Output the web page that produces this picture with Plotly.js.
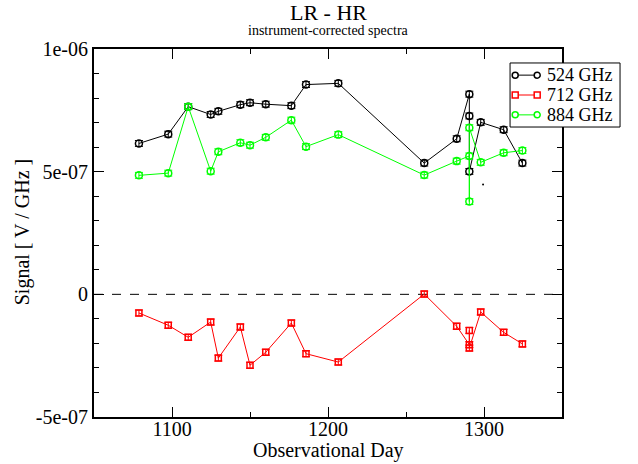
<!DOCTYPE html>
<html>
<head>
<meta charset="utf-8">
<script src="https://cdn.plot.ly/plotly-3.0.1.min.js"></script>
<style>html,body{margin:0;padding:0;background:#fff;}#plot{width:638px;height:464px;}</style>
</head>
<body>
<div id="plot"></div>
<script>
// Observational days (shared by all three series)
var days = [1078.8, 1097.6, 1110.4, 1124.8, 1129.7, 1143.8, 1150.0, 1160.1, 1176.5, 1185.9, 1206.6, 1261.7, 1282.5, 1290.6, 1290.6, 1290.6, 1297.9, 1312.6, 1324.6];
// 524 GHz signal
var sig524 = [6.15e-7, 6.53e-7, 7.65e-7, 7.33e-7, 7.46e-7, 7.73e-7, 7.81e-7, 7.75e-7, 7.69e-7, 8.55e-7, 8.60e-7, 5.35e-7, 6.34e-7, 8.16e-7, 7.27e-7, 5.01e-7, 7.01e-7, 6.71e-7, 5.35e-7];
// 712 GHz signal
var sig712 = [-0.76e-7, -1.26e-7, -1.75e-7, -1.13e-7, -2.60e-7, -1.33e-7, -2.89e-7, -2.36e-7, -1.17e-7, -2.42e-7, -2.76e-7, 0.01e-7, -1.30e-7, -2.05e-7, -1.47e-7, -2.19e-7, -0.72e-7, -1.55e-7, -2.02e-7];
// 884 GHz signal
var sig884 = [4.85e-7, 4.94e-7, 7.65e-7, 5.02e-7, 5.81e-7, 6.18e-7, 6.08e-7, 6.40e-7, 7.10e-7, 6.02e-7, 6.51e-7, 4.86e-7, 5.43e-7, 5.64e-7, 3.78e-7, 6.79e-7, 5.38e-7, 5.77e-7, 5.86e-7];
// stray single point
var strayDay = [1299.4];
var straySig = [4.48e-7];
// error (symmetric) for each point
var err524 = [1.2e-8, 1.2e-8, 1.2e-8, 1.2e-8, 1.2e-8, 1.2e-8, 1.2e-8, 1.2e-8, 1.2e-8, 1.2e-8, 1.2e-8, 1.2e-8, 1.2e-8, 1.2e-8, 1.2e-8, 1.2e-8, 1.2e-8, 1.2e-8, 1.2e-8];
var err712 = err524.slice();
var err884 = err524.slice();
// legend names, colours and tick labels
var seriesNames = ["524 GHz", "712 GHz", "884 GHz"];
var seriesColors = ["#000000", "#ff0000", "#00ff00"];
var seriesShapes = ["circle", "rect", "circle"];
var yTickVals = [-5e-7, 0, 5e-7, 1e-6];
var yTickText = ["-5e-07", "0", "5e-07", "1e-06"];
var xTickVals = [1100, 1200, 1300];
var xTickText = ["1100", "1200", "1300"];

var serif = "Liberation Serif";

function mk(y, err, name, color, symbol, size) {
  return {
    x: days, y: y, name: name, type: "scatter", mode: "lines+markers",
    line: {color: color, width: 1},
    marker: {symbol: symbol, size: size, color: color, line: {color: color, width: 1.5}},
    error_y: {type: "data", array: err, visible: true, color: color, thickness: 1, width: 4},
    showlegend: false
  };
}

var traces = [
  mk(sig524, err524, seriesNames[0], seriesColors[0], "circle-open", 7),
  mk(sig712, err712, seriesNames[1], seriesColors[1], "square-open", 6),
  mk(sig884, err884, seriesNames[2], seriesColors[2], "circle-open", 7),
  {x: strayDay, y: straySig, type: "scatter", mode: "markers", showlegend: false,
   marker: {size: 2, color: "#000000"}, hoverinfo: "skip"}
];

// custom legend box (paper coordinates)
var legX0 = 0.889, legX1 = 1.124, legY0 = 0.788, legY1 = 0.962;
var rowY = [0.929, 0.875, 0.821];
var symL = 0.9, symR = 0.947, txtX = 0.964;

var shapes = [
  {type: "line", xref: "paper", x0: 0, x1: 1, yref: "y", y0: 0, y1: 0,
   line: {color: "#000", width: 1, dash: "dash"}, layer: "below"},
  {type: "rect", xref: "paper", yref: "paper", x0: legX0, x1: legX1, y0: legY0, y1: legY1,
   fillcolor: "#ffffff", line: {color: "#000", width: 1}, layer: "above"}
];
var annotations = [
  {text: "LR - HR", xref: "paper", yref: "paper", x: 0.5, y: 1.098, xanchor: "center", yanchor: "middle",
   showarrow: false, font: {family: serif, size: 22}},
  {text: "instrument-corrected spectra", xref: "paper", yref: "paper", x: 0.5, y: 1.049, xanchor: "center", yanchor: "middle",
   showarrow: false, font: {family: serif, size: 14}},
  {text: "Observational Day", xref: "paper", yref: "paper", x: 0.5, y: -0.092, xanchor: "center", yanchor: "middle",
   showarrow: false, font: {family: serif, size: 20}},
  {text: "Signal [ V / GHz ]", xref: "paper", yref: "paper", x: -0.153, y: 0.503, xanchor: "center", yanchor: "middle",
   textangle: -90, showarrow: false, font: {family: serif, size: 20}}
];
for (var i = 0; i < seriesNames.length; i++) {
  var c = seriesColors[i];
  shapes.push({type: "line", xref: "paper", yref: "paper", x0: symL, x1: symR, y0: rowY[i], y1: rowY[i],
               line: {color: c, width: 1}, layer: "above"});
  [symL, symR].forEach(function (sx) {
    shapes.push({type: seriesShapes[i], xref: "paper", yref: "paper", xsizemode: "pixel", ysizemode: "pixel",
                 xanchor: sx, yanchor: rowY[i], x0: -3, x1: 3, y0: -3, y1: 3,
                 fillcolor: "#ffffff", line: {color: c, width: 1.5}, layer: "above"});
  });
  annotations.push({text: seriesNames[i], xref: "paper", yref: "paper", x: txtX, y: rowY[i],
                    xanchor: "left", yanchor: "middle", showarrow: false,
                    font: {family: serif, size: 18, color: "#000"}});
}

var layout = {
  width: 638, height: 464,
  margin: {l: 94, r: 76, t: 49, b: 47, pad: 0},
  paper_bgcolor: "#ffffff", plot_bgcolor: "#ffffff",
  font: {family: serif, size: 18, color: "#000"},
  showlegend: false,
  xaxis: {range: [1050, 1350], showgrid: false, zeroline: false,
          showline: true, linecolor: "#000", linewidth: 2, mirror: "ticks",
          ticks: "inside", ticklen: 10, tickwidth: 1, tickcolor: "#000",
          tickvals: xTickVals, ticktext: xTickText, ticklabelstandoff: -7,
          tickfont: {family: serif, size: 20},
          minor: {ticks: "inside", ticklen: 5, tick0: 1050, dtick: 50, tickcolor: "#000", showgrid: false}},
  yaxis: {range: [-5e-7, 1e-6], showgrid: false, zeroline: false,
          showline: true, linecolor: "#000", linewidth: 2, mirror: "ticks",
          ticks: "inside", ticklen: 10, tickwidth: 1, tickcolor: "#000",
          tickvals: yTickVals, ticktext: yTickText,
          tickfont: {family: serif, size: 20},
          minor: {ticks: "inside", ticklen: 5, tick0: 0, dtick: 1e-7, tickcolor: "#000", showgrid: false}},
  shapes: shapes,
  annotations: annotations
};

Plotly.newPlot("plot", traces, layout, {displayModeBar: false, staticPlot: true});
</script>
</body>
</html>
